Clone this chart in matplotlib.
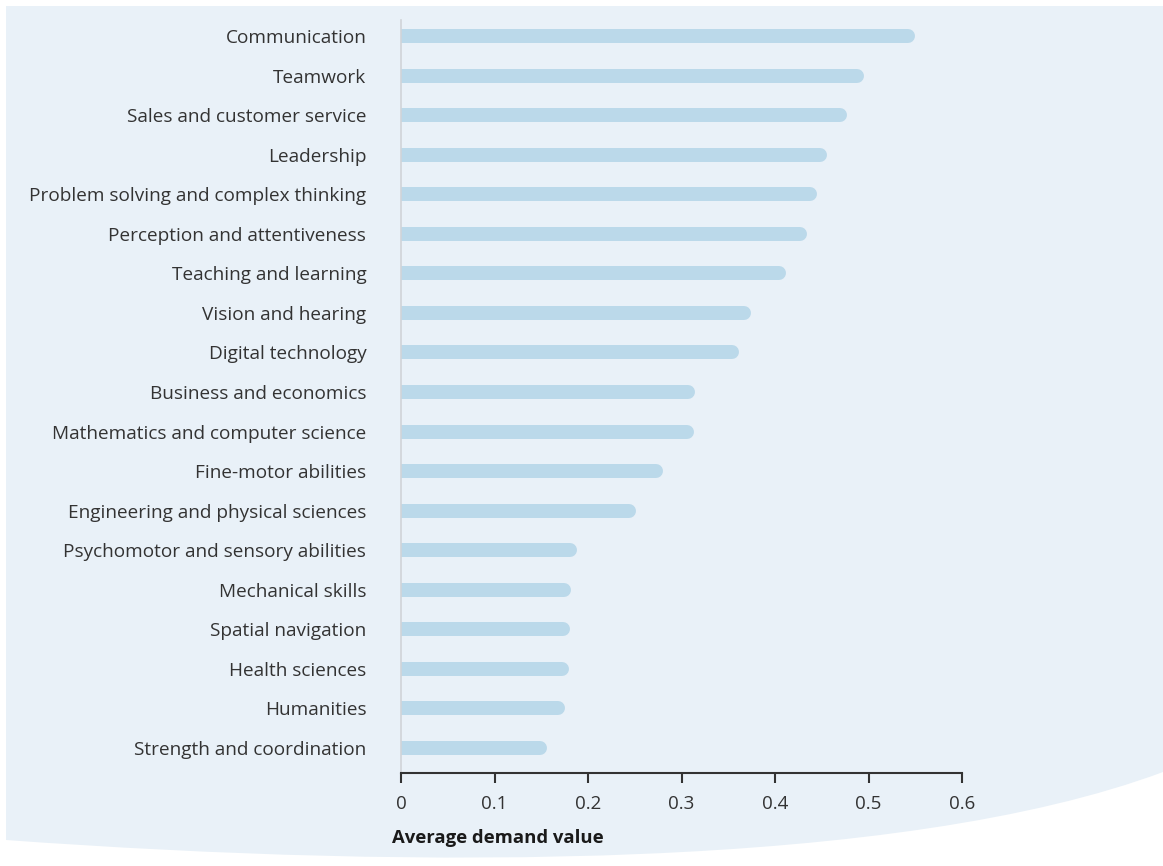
import matplotlib.pyplot as plt
from matplotlib.path import Path
from matplotlib.patches import PathPatch

skills = [
    "Communication", "Teamwork", "Sales and customer service", "Leadership",
    "Problem solving and complex thinking", "Perception and attentiveness",
    "Teaching and learning", "Vision and hearing", "Digital technology",
    "Business and economics", "Mathematics and computer science",
    "Fine-motor abilities", "Engineering and physical sciences",
    "Psychomotor and sensory abilities", "Mechanical skills",
    "Spatial navigation", "Health sciences", "Humanities",
    "Strength and coordination",
]
demand = [0.550, 0.495, 0.477, 0.456, 0.445, 0.434, 0.412, 0.374, 0.361,
          0.314, 0.313, 0.280, 0.251, 0.188, 0.182, 0.181, 0.180, 0.175, 0.156]
xticks = [0, 0.1, 0.2, 0.3, 0.4, 0.5, 0.6]
xtick_labels = ["0", "0.1", "0.2", "0.3", "0.4", "0.5", "0.6"]

plt.rcParams["font.family"] = ["Open Sans", "DejaVu Sans"]

W, H = 1163, 866
fig = plt.figure(figsize=(W / 100, H / 100), dpi=100)
fig.patch.set_facecolor("white")

# light blue panel with curved bottom edge (pixel coords -> figure fraction)
def px(x, y):
    return (x / W, 1 - y / H)

verts = [px(6, 6), px(1163, 6), px(1163, 772),
         px(900, 870), px(420, 870), px(6, 840),
         px(6, 6)]
codes = [Path.MOVETO, Path.LINETO, Path.LINETO,
         Path.CURVE4, Path.CURVE4, Path.CURVE4,
         Path.CLOSEPOLY]
fig.patches.append(PathPatch(Path(verts, codes), transform=fig.transFigure,
                             facecolor="#e9f1f8", edgecolor="none", zorder=-5))

ax = fig.add_axes([401 / W, 1 - 773 / H, 561 / W, 753 / H])
ax.set_zorder(2)
ax.set_facecolor("none")

bar_color = "#bbd9ea"
lw_px = 14
r = (lw_px / 2) / 561 * 0.6  # half line width in data units
for i, v in enumerate(demand):
    ax.plot([0, v - r], [i, i], color=bar_color, lw=lw_px * 0.72,
            solid_capstyle="round", clip_on=True)

ax.set_xlim(0, 0.6)
ax.set_ylim(len(skills) - 1 + 0.632, -0.404)
ax.set_yticks(range(len(skills)))
ax.set_yticklabels(skills, fontsize=13.7, color="#333333")
ax.tick_params(axis="y", length=0, pad=25)
ax.set_xticks(xticks)
ax.set_xticklabels(xtick_labels, fontsize=13.5, color="#333333")
ax.tick_params(axis="x", length=7, width=1.5, color="#333333", pad=9)

for s in ["top", "right"]:
    ax.spines[s].set_visible(False)
ax.spines["left"].set_color("#d0d4d8")
ax.spines["left"].set_linewidth(1.2)
ax.spines["bottom"].set_color("#333333")
ax.spines["bottom"].set_linewidth(1.5)

fig.text(392 / W, 1 - 838 / H, "Average demand value", fontsize=13.3,
         fontweight="bold", color="#1a1a1a", ha="left", va="center")

fig.savefig("out.png", dpi=100)
